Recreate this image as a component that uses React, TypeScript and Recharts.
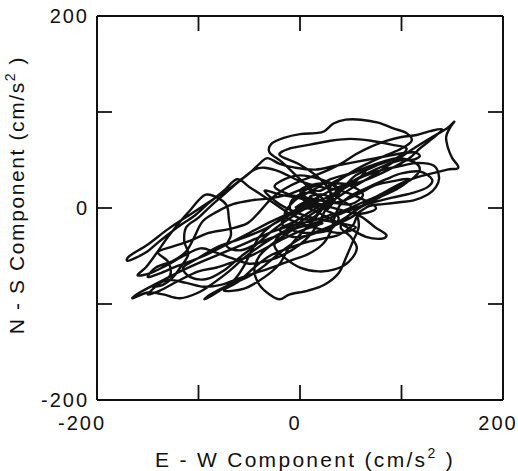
import React from 'react';
import { LineChart, Line, XAxis, YAxis } from 'recharts';

// axis ticks (cm/s^2)
const ewTicks = [-200, -100, 0, 100, 200];
const nsTicks = [-200, -100, 0, 100, 200];
const labelledTicks = [-200, 0, 200];

// particle motion trace, [E-W, N-S] in cm/s^2 in time order
const startWiggle: [number, number][] = [
  [-5, 0], [5, 6], [15, 4], [18, -5], [8, -12], [-5, -8], [-10, 2], [-4, 12], [10, 16], [22, 10], [26, -2],
];
const swingUpperRight: [number, number][] = [
  [34, 8], [42, 20], [55, 30], [70, 38], [85, 45], [100, 50], [112, 48], [118, 40], [110, 30], [95, 22],
  [80, 14], [62, 6], [45, -2], [28, -8], [10, -14], [-8, -18],
];
const swingLowerLeft: [number, number][] = [
  [-28, -25], [-50, -35], [-72, -45], [-95, -55], [-118, -66], [-140, -78], [-158, -88], [-165, -94],
  [-150, -88], [-135, -90], [-118, -94], [-100, -88], [-85, -78], [-70, -66], [-55, -52], [-40, -40],
  [-22, -28], [-5, -18], [12, -6],
];
const swingFarRight: [number, number][] = [
  [30, 6], [50, 20], [72, 34], [95, 50], [115, 64], [132, 75], [145, 83], [152, 90], [148, 84], [144, 74],
  [146, 62], [150, 52], [156, 42], [145, 40], [130, 36], [115, 32], [100, 26], [86, 18], [72, 10], [58, 0],
  [45, -10], [32, -18], [18, -24],
];
const swingBottom: [number, number][] = [
  [0, -32], [-18, -45], [-35, -60], [-52, -72], [-70, -80], [-88, -90], [-94, -95], [-82, -88], [-65, -75],
  [-55, -60], [-48, -45], [-40, -30], [-28, -18], [-12, -8], [4, 2], [18, 10],
];
const loopTop: [number, number][] = [
  [8, 22], [-5, 35], [-18, 48], [-30, 58], [-28, 67], [-16, 73], [0, 77], [15, 78], [24, 80], [33, 88],
  [45, 92], [60, 92], [77, 89], [92, 83], [105, 78], [110, 70], [100, 62], [85, 55], [70, 48], [55, 40],
  [40, 30], [28, 20],
];
const loopLowerRight: [number, number][] = [
  [38, 10], [52, 0], [58, -18], [52, -35], [46, -50], [38, -68], [24, -80], [8, -86], [-10, -90], [-20, -95],
  [-30, -90], [-40, -80], [-45, -65], [-40, -50], [-28, -38], [-12, -26], [2, -14],
];
const swingFarLeft: [number, number][] = [
  [-12, -5], [-30, 8], [-50, 22], [-62, 30], [-75, 18], [-90, 5], [-104, -8], [-118, -18], [-128, -26],
  [-140, -36], [-150, -45], [-162, -52], [-170, -55], [-168, -50], [-150, -38], [-130, -22], [-110, -8],
  [-90, 6], [-70, 20], [-55, 32], [-45, 40], [-35, 42],
];
const centreZigzag: [number, number][] = [
  [-20, 38], [0, 28], [20, 22], [40, 18], [60, 10], [75, 0], [60, -6], [40, -2], [20, 4], [0, 10], [-20, 14],
  [-35, 18], [-20, 4], [0, -6], [20, -12], [40, -16], [55, -20], [40, -26], [20, -22], [0, -16], [-15, -8],
  [-5, 8], [15, 20], [30, 30], [50, 36], [65, 40], [55, 28], [40, 18], [25, 6], [10, -4], [-5, -14],
  [-20, -22], [-8, -30], [10, -28], [30, -20], [50, -10], [68, 2],
];
const loopRight: [number, number][] = [
  [82, 4], [98, 6], [112, 8], [126, 14], [134, 22], [137, 32], [132, 44], [116, 47], [100, 44], [82, 40],
  [65, 34], [48, 26], [30, 18], [12, 8],
];
const swingLeftMid: [number, number][] = [
  [-8, -4], [-28, -14], [-50, -26], [-72, -38], [-95, -50], [-120, -60], [-138, -68], [-150, -72],
  [-142, -62], [-125, -55], [-112, -45], [-104, -30], [-96, -14], [-82, -4], [-66, 4], [-48, 8], [-30, 10],
  [-12, 14], [5, 20],
];
const upperBand: [number, number][] = [
  [20, 18], [35, 28], [55, 38], [75, 46], [95, 52], [110, 50], [118, 54], [112, 58], [95, 56], [75, 52],
  [55, 48], [35, 44], [15, 40], [-5, 42], [-20, 46], [-32, 52], [-40, 46], [-50, 36], [-62, 26], [-75, 14],
  [-88, 2], [-100, -10], [-112, -20], [-114, -35], [-110, -48], [-118, -62], [-125, -72], [-135, -80],
  [-145, -82], [-130, -75], [-112, -78], [-95, -82], [-78, -80], [-62, -74], [-45, -68], [-28, -62],
  [-10, -55], [8, -48], [22, -38], [30, -25], [34, -10], [40, 4], [52, 14], [68, 22], [85, 30], [100, 36],
  [118, 38], [130, 30], [126, 22], [112, 16], [96, 12],
];
const leftWaves: [number, number][] = [
  [80, 8], [60, 2], [40, -6], [20, -14], [0, -20], [-20, -28], [-40, -36], [-58, -44], [-72, -40],
  [-68, -28], [-70, -12], [-72, 2], [-80, 10], [-92, 14], [-100, 8], [-108, -2], [-118, -14], [-130, -30],
  [-142, -48], [-152, -62], [-160, -70], [-148, -68], [-132, -60], [-115, -50], [-98, -42], [-84, -46],
  [-68, -52], [-50, -58], [-32, -55], [-15, -48], [0, -38], [10, -28], [18, -16], [24, -4], [30, 8],
];
const centreKnot: [number, number][] = [
  [36, 22], [20, 30], [0, 34], [-15, 30], [-25, 22], [-10, 14], [10, 10], [30, 6], [50, 4], [62, 14],
  [48, 24], [30, 26], [12, 24], [0, 18], [10, 8], [25, -2], [38, -10], [30, -22], [12, -26], [-5, -24],
  [-18, -16], [-8, -6], [8, 0], [26, 4], [44, 8], [60, 16], [75, 24], [92, 28], [108, 30], [96, 20],
  [80, 12], [62, 2], [48, -8],
];
const lowerPocket: [number, number][] = [
  [40, -20], [50, -30], [56, -42], [48, -56], [34, -64], [18, -66], [0, -62], [-15, -52], [-25, -40],
  [-20, -28], [-8, -22], [8, -18], [22, -16],
];
const leftNetwork: [number, number][] = [
  [0, -24], [-20, -34], [-45, -48], [-65, -56], [-82, -62], [-100, -66], [-120, -76], [-138, -86],
  [-150, -90], [-140, -80], [-128, -70], [-130, -56], [-140, -46], [-125, -40], [-108, -34], [-90, -26],
  [-70, -22], [-52, -16], [-40, -4], [-28, 10], [-15, 20],
];
const upperRightSecond: [number, number][] = [
  [0, 28], [20, 36], [40, 46], [55, 56], [70, 64], [85, 70], [100, 74], [115, 76], [128, 80], [140, 82],
  [130, 72], [118, 62], [108, 52], [95, 44], [80, 36], [62, 28], [45, 22], [30, 12],
];
const bottomMid: [number, number][] = [
  [20, -4], [5, -22], [-10, -40], [-20, -58], [-35, -72], [-55, -84], [-75, -86], [-60, -76], [-45, -62],
  [-30, -50], [-12, -42], [5, -36], [22, -32], [38, -28], [52, -18],
];
const bumpLowerRight: [number, number][] = [
  [58, -8], [74, -20], [85, -28], [80, -32], [65, -30], [50, -22], [35, -14], [20, -6], [5, 0],
];
const swingLeftLow: [number, number][] = [
  [-15, -10], [-35, -22], [-58, -32], [-80, -40], [-100, -52], [-115, -62], [-108, -72], [-92, -74],
  [-75, -65], [-60, -52], [-45, -40], [-30, -26], [-15, -14], [0, -4], [15, 6], [30, 14],
];
const upperMid: [number, number][] = [
  [20, 30], [0, 45], [-20, 55], [-10, 62], [10, 66], [30, 70], [50, 72], [70, 70], [90, 66], [105, 62],
  [95, 52], [75, 44], [55, 34], [40, 20],
];
const endWiggle: [number, number][] = [
  [28, 26], [12, 22], [0, 14], [10, 4], [24, 2], [34, 8], [22, 14], [10, 12], [16, 8],
];

const trace = [
  ...startWiggle, ...swingUpperRight, ...swingLowerLeft, ...swingFarRight, ...swingBottom, ...loopTop,
  ...loopLowerRight, ...swingFarLeft, ...centreZigzag, ...loopRight, ...swingLeftMid, ...upperBand,
  ...leftWaves, ...centreKnot, ...lowerPocket, ...leftNetwork, ...upperRightSecond, ...bottomMid,
  ...bumpLowerRight, ...swingLeftLow, ...upperMid, ...endWiggle,
].map(([ew, ns]) => ({ ew, ns }));

// Catmull-Rom style curve through the points, so the trace stays smooth without overshooting
const smoothCurve = (context: any) => {
  let pts: number[][] = [];
  return {
    areaStart() {},
    areaEnd() {},
    lineStart() {
      pts = [];
    },
    point(x: number, y: number) {
      pts.push([+x, +y]);
    },
    lineEnd() {
      if (!pts.length) return;
      context.moveTo(pts[0][0], pts[0][1]);
      for (let i = 0; i < pts.length - 1; i++) {
        const p0 = pts[i - 1] || pts[i];
        const p1 = pts[i];
        const p2 = pts[i + 1];
        const p3 = pts[i + 2] || p2;
        context.bezierCurveTo(
          p1[0] + (p2[0] - p0[0]) / 6,
          p1[1] + (p2[1] - p0[1]) / 6,
          p2[0] - (p3[0] - p1[0]) / 6,
          p2[1] - (p3[1] - p1[1]) / 6,
          p2[0],
          p2[1],
        );
      }
    },
  };
};

const FONT = '"Liberation Sans", Arial, sans-serif';
const TICK_LEN = 15;

const BottomTick = (props: any) => {
  const { x, y, payload } = props;
  const v = payload.value;
  const shift = v === -200 ? -15 : -5;
  return (
    <g>
      <line x1={x} y1={y} x2={x} y2={y - TICK_LEN} stroke="#111" strokeWidth={1.8} />
      {labelledTicks.includes(v) && (
        <text x={x + shift} y={y + 30} textAnchor="middle" fontSize={20} letterSpacing={2} fill="#111" fontFamily={FONT}>
          {v}
        </text>
      )}
    </g>
  );
};

const LeftTick = (props: any) => {
  const { x, y, payload } = props;
  const v = payload.value;
  return (
    <g>
      <line x1={x} y1={y} x2={x + TICK_LEN} y2={y} stroke="#111" strokeWidth={1.8} />
      {labelledTicks.includes(v) && (
        <text x={x - 8} y={y + 7} textAnchor="end" fontSize={20} letterSpacing={2} fill="#111" fontFamily={FONT}>
          {v}
        </text>
      )}
    </g>
  );
};

const TopTick = (props: any) => {
  const { x, y } = props;
  return <line x1={x} y1={y} x2={x} y2={y + TICK_LEN} stroke="#111" strokeWidth={1.8} />;
};

const RightTick = (props: any) => {
  const { x, y } = props;
  return <line x1={x} y1={y} x2={x - TICK_LEN} y2={y} stroke="#111" strokeWidth={1.8} />;
};

export default function App() {
  const axisLine = { stroke: '#111', strokeWidth: 2 };
  return (
    <div style={{ position: 'absolute', left: 0, top: 0, width: 518, height: 471, background: '#fff' }}>
      <LineChart width={518} height={471} margin={{ top: 15, right: 14, left: 0, bottom: 0 }}>
        <XAxis
          type="number"
          dataKey="ew"
          domain={[-200, 200]}
          ticks={ewTicks}
          allowDataOverflow
          height={71}
          tickSize={0}
          tickMargin={0}
          tickLine={false}
          axisLine={axisLine}
          tick={<BottomTick />}
          interval={0}
        />
        <XAxis
          xAxisId="top"
          orientation="top"
          type="number"
          dataKey="ew"
          domain={[-200, 200]}
          ticks={ewTicks}
          allowDataOverflow
          height={1}
          tickSize={0}
          tickMargin={0}
          tickLine={false}
          axisLine={axisLine}
          tick={<TopTick />}
          interval={0}
        />
        <YAxis
          type="number"
          dataKey="ns"
          domain={[-200, 200]}
          ticks={nsTicks}
          allowDataOverflow
          width={97}
          tickSize={0}
          tickMargin={0}
          tickLine={false}
          axisLine={axisLine}
          tick={<LeftTick />}
          interval={0}
        />
        <YAxis
          yAxisId="right"
          orientation="right"
          type="number"
          dataKey="ns"
          domain={[-200, 200]}
          ticks={nsTicks}
          allowDataOverflow
          width={1}
          tickSize={0}
          tickMargin={0}
          tickLine={false}
          axisLine={axisLine}
          tick={<RightTick />}
          interval={0}
        />
        <Line
          data={trace}
          dataKey="ns"
          type={smoothCurve as any}
          stroke="#111"
          strokeWidth={2.4}
          strokeLinejoin="round"
          dot={false}
          activeDot={false}
          isAnimationActive={false}
        />
        <Line
          data={trace}
          xAxisId="top"
          yAxisId="right"
          dataKey="ns"
          type="linear"
          stroke="none"
          dot={false}
          activeDot={false}
          isAnimationActive={false}
        />
        <text x={305} y={467} textAnchor="middle" fontSize={21} letterSpacing={2.3} fill="#111" fontFamily={FONT}>
          E - W Component (cm/s
          <tspan dy={-9} fontSize={14}>2</tspan>
          <tspan dy={9}> )</tspan>
        </text>
        <text
          transform="translate(24 195) rotate(-90)"
          x={0}
          y={0}
          textAnchor="middle"
          fontSize={21}
          letterSpacing={1.6}
          fill="#111"
          fontFamily={FONT}
        >
          N - S Component (cm/s
          <tspan dy={-9} fontSize={14}>2</tspan>
          <tspan dy={9}> )</tspan>
        </text>
      </LineChart>
    </div>
  );
}
